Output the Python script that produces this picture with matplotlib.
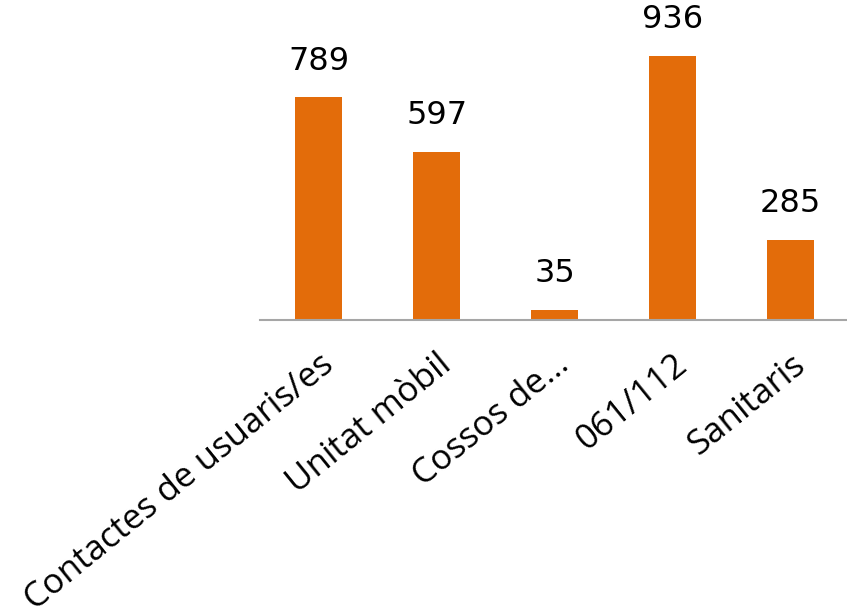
import matplotlib.pyplot as plt

categories = ['Contactes de usuaris/es', 'Unitat mòbil', 'Cossos de...', '061/112', 'Sanitaris']
values = [789, 597, 35, 936, 285]

fig = plt.figure(figsize=(8.47, 6.13), dpi=100)
ax = fig.add_axes([260 / 847, 1 - 320 / 613, 589 / 847, 320 / 613])

x = range(len(categories))
bars = ax.bar(x, values, width=0.4, color='#E36C0A')
ax.set_xlim(-0.5, len(categories) - 0.5)
ax.set_ylim(0, 1134)

for b, v in zip(bars, values):
    ax.annotate(str(v), (b.get_x() + b.get_width() / 2, v), xytext=(0, 15),
                textcoords='offset points', ha='center', va='bottom',
                fontsize=23, family='DejaVu Sans')

ax.set_xticks(list(x))
ax.set_xticklabels(categories, rotation=39, ha='right', rotation_mode='anchor',
                   fontsize=25, family='Open Sans')
ax.tick_params(axis='x', length=0, pad=20)
ax.set_yticks([])
for s in ['top', 'right', 'left']:
    ax.spines[s].set_visible(False)
ax.spines['bottom'].set_color('#A6A6A6')
ax.spines['bottom'].set_linewidth(1.5)

fig.savefig('out.png', dpi=100)
